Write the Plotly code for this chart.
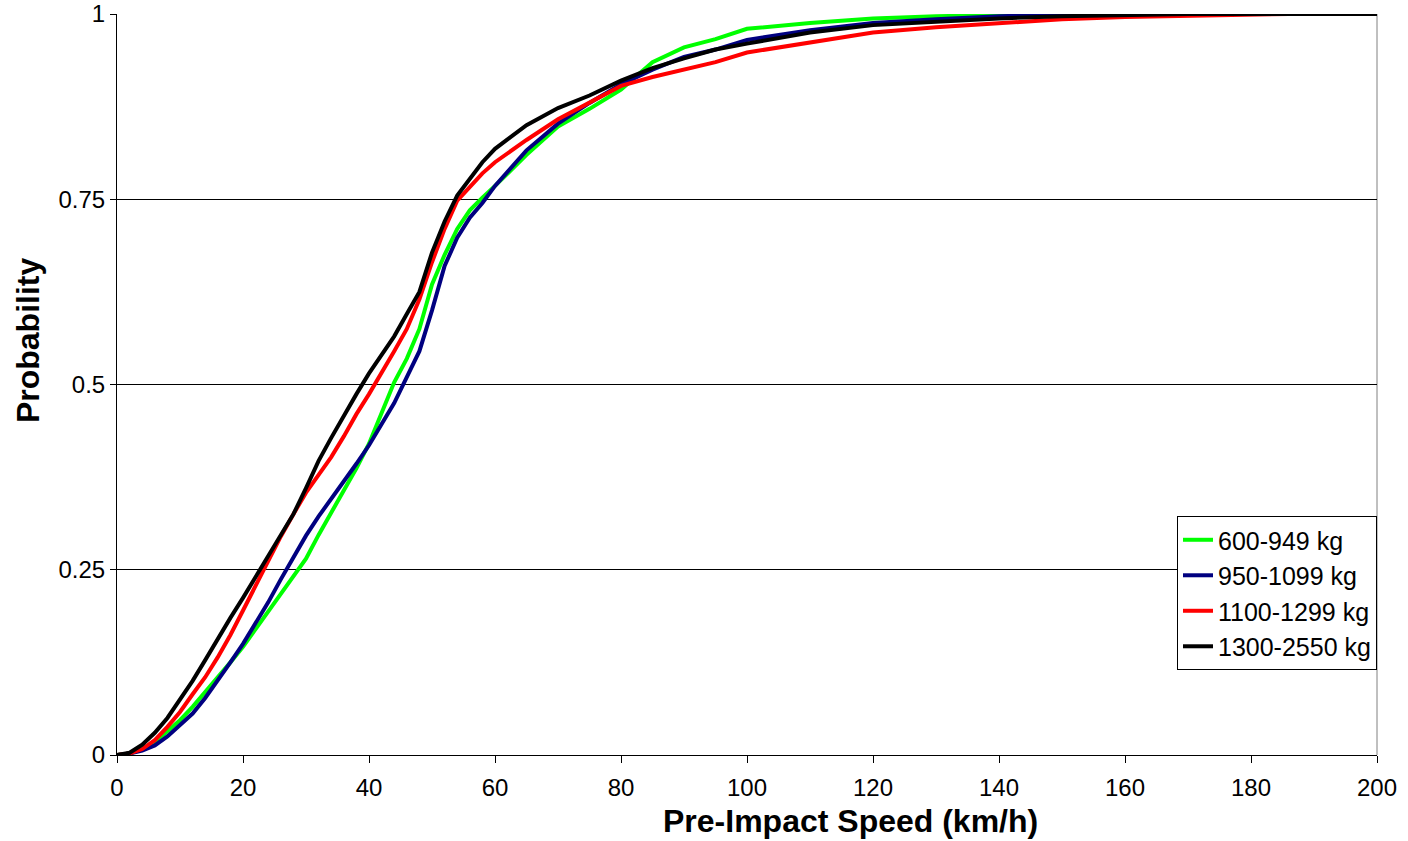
import plotly.graph_objects as go

speed = [0, 2, 4, 6, 8, 10, 12, 14, 16, 18, 20, 22, 24, 26, 28, 30, 32, 34, 36, 38,
         40, 42, 44, 46, 48, 50, 52, 54, 56, 58, 60, 65, 70, 75, 80, 85, 90, 95,
         100, 110, 120, 130, 140, 150, 160, 170, 180, 186, 190, 200]

p_600_949 = [0, 0.002, 0.008, 0.018, 0.032, 0.047, 0.065, 0.085, 0.103, 0.125, 0.146,
             0.170, 0.193, 0.218, 0.240, 0.265, 0.297, 0.327, 0.356, 0.387,
             0.420, 0.460, 0.503, 0.535, 0.575, 0.635, 0.675, 0.710, 0.735, 0.752,
             0.768, 0.810, 0.848, 0.872, 0.898, 0.935, 0.955, 0.966,
             0.980, 0.988, 0.994, 0.997, 0.999, 1.0, 1.0, 1.0, 1.0, 1.0, 1.0, 1.0]

p_950_1099 = [0, 0.002, 0.006, 0.013, 0.025, 0.040, 0.056, 0.077, 0.100, 0.125, 0.150,
              0.178, 0.206, 0.237, 0.267, 0.296, 0.322, 0.345, 0.370, 0.393,
              0.418, 0.446, 0.475, 0.510, 0.545, 0.600, 0.660, 0.698, 0.725, 0.745,
              0.768, 0.816, 0.852, 0.880, 0.905, 0.925, 0.942, 0.952,
              0.965, 0.978, 0.988, 0.993, 0.997, 0.999, 1.0, 1.0, 1.0, 1.0, 1.0, 1.0]

p_1100_1299 = [0, 0.002, 0.008, 0.020, 0.038, 0.058, 0.082, 0.105, 0.132, 0.162, 0.195,
               0.228, 0.262, 0.295, 0.325, 0.354, 0.378, 0.402, 0.430, 0.460,
               0.487, 0.515, 0.545, 0.575, 0.615, 0.665, 0.710, 0.748, 0.767, 0.785,
               0.800, 0.830, 0.858, 0.880, 0.903, 0.915, 0.925, 0.935,
               0.948, 0.962, 0.975, 0.982, 0.988, 0.993, 0.996, 0.998, 0.999, 1.0, None, None]

p_1300_2550 = [0, 0.003, 0.014, 0.030, 0.050, 0.074, 0.100, 0.128, 0.157, 0.185, 0.212,
               0.240, 0.268, 0.296, 0.325, 0.360, 0.397, 0.428, 0.458, 0.487,
               0.515, 0.540, 0.565, 0.595, 0.625, 0.678, 0.720, 0.755, 0.777, 0.800,
               0.818, 0.850, 0.873, 0.890, 0.910, 0.927, 0.940, 0.952,
               0.960, 0.975, 0.985, 0.990, 0.994, 0.997, 0.999, 1.0, 1.0, 1.0, 1.0, 1.0]

series = [
    ("600-949 kg", p_600_949, "#00FF00"),
    ("950-1099 kg", p_950_1099, "#000080"),
    ("1100-1299 kg", p_1100_1299, "#FF0000"),
    ("1300-2550 kg", p_1300_2550, "#000000"),
]

fig = go.Figure()
for name, vals, color in series:
    fig.add_trace(go.Scatter(x=speed, y=vals, mode="lines", name=name,
                             line=dict(color=color, width=4), connectgaps=False))

font = "Liberation Sans, Arial, sans-serif"
fig.update_layout(
    width=1408, height=841,
    margin=dict(l=117, r=31, t=14, b=86, autoexpand=False),
    paper_bgcolor="white", plot_bgcolor="white",
    font=dict(family=font, size=24, color="black"),
    showlegend=True,
    legend=dict(x=1, xanchor="right", y=0.3225, yanchor="top",
                bgcolor="white", bordercolor="black", borderwidth=1,
                font=dict(size=25, family=font, color="black"),
                tracegroupgap=0, itemwidth=30),
    xaxis=dict(range=[0, 200], tickvals=[0, 20, 40, 60, 80, 100, 120, 140, 160, 180, 200],
               showgrid=False, zeroline=False, showline=True, linecolor="black", linewidth=1,
               ticks="outside", ticklen=7, tickcolor="black", automargin=False,
               tickfont=dict(size=24), ticklabelstandoff=4),
    yaxis=dict(range=[0, 1], tickvals=[0, 0.25, 0.5, 0.75, 1], ticktext=["0", "0.25", "0.5", "0.75", "1"],
               showgrid=True, gridcolor="black", gridwidth=1,
               zeroline=False, showline=True, linecolor="black", linewidth=1,
               ticks="outside", ticklen=6, tickcolor="black", automargin=False,
               tickfont=dict(size=24)),
    shapes=[dict(type="line", xref="paper", yref="paper", x0=1, x1=1, y0=0, y1=1,
                 line=dict(color="#808080", width=1), layer="below")],
    annotations=[
        dict(text="<b>Pre-Impact Speed (km/h)</b>", xref="paper", yref="paper",
             x=0.5825, y=-0.089, xanchor="center", yanchor="middle", showarrow=False,
             font=dict(size=32), borderpad=0),
        dict(text="<b>Probability</b>", xref="paper", yref="paper",
             x=-0.0706, y=0.56, xanchor="center", yanchor="middle", textangle=-90,
             showarrow=False, font=dict(size=32)),
    ],
)

fig.write_html("out.html", config={"displayModeBar": False},
               post_script="document.body.style.margin='0';document.body.style.padding='0';")
